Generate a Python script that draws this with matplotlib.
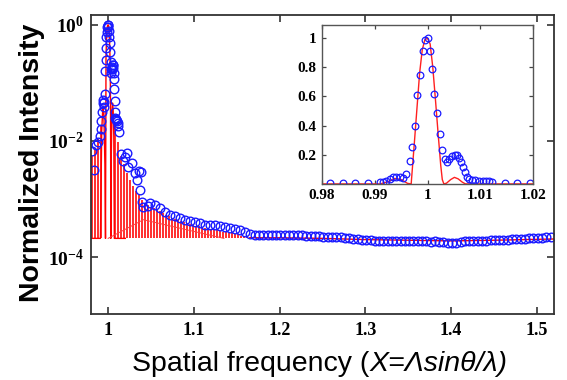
import numpy as np
import matplotlib
matplotlib.use('Agg')
import matplotlib.pyplot as plt

plt.rcParams['mathtext.fontset'] = 'custom'
plt.rcParams['mathtext.rm'] = 'Liberation Serif:bold'
plt.rcParams['mathtext.bf'] = 'Liberation Serif:bold'
plt.rcParams['mathtext.it'] = 'Liberation Serif:italic:bold'
plt.rcParams['mathtext.default'] = 'rm'

# ---------------- data ----------------
# theory sidelobe peaks (drawn as red stems down to noise floor)
stem_x = [0.9810, 0.9845, 0.9880, 0.9915,
          1.0085, 1.0120, 1.0155, 1.0190, 1.0225, 1.0260, 1.0295, 1.0330,
          1.0365, 1.0400, 1.0435, 1.0470, 1.0505, 1.0540, 1.0575, 1.0610,
          1.0645, 1.0680, 1.0715, 1.0750, 1.0785, 1.0820, 1.0855, 1.0890,
          1.0925, 1.0960, 1.0995, 1.1030, 1.1065, 1.1100, 1.1135, 1.1170,
          1.1205, 1.1240, 1.1275, 1.1310, 1.1345, 1.1380, 1.1415, 1.1450,
          1.1485, 1.1520, 1.1555, 1.1590, 1.1625, 1.1660]
stem_top = [5.6e-3, 7.6e-3, 1.1e-2, 1.8e-2,
            1.9e-2, 9.5e-3, 5.6e-3, 4.0e-3, 2.8e-3, 2.1e-3, 1.7e-3, 1.4e-3,
            1.15e-3, 9.8e-4, 8.7e-4, 7.9e-4, 7.4e-4, 7.1e-4, 6.6e-4, 6.2e-4,
            5.8e-4, 5.4e-4, 5.0e-4, 4.8e-4, 4.6e-4, 4.4e-4, 4.2e-4, 4.0e-4,
            3.8e-4, 3.7e-4, 3.55e-4, 3.45e-4, 3.4e-4, 3.25e-4, 3.15e-4, 3.1e-4,
            3.0e-4, 2.95e-4, 2.9e-4, 2.8e-4, 2.75e-4, 2.7e-4, 2.65e-4, 2.55e-4,
            2.5e-4, 2.45e-4, 2.35e-4, 2.3e-4, 2.25e-4, 2.2e-4]
noise_floor = 2.1e-4

# secondary "tent" envelope of theory minima
tent_x = [1.000, 1.041, 1.135]
tent_y = [2.1e-4, 4.4e-4, 2.1e-4]

# theory far tail
tail_th_x = [1.166, 1.20, 1.25, 1.30, 1.35, 1.40, 1.45, 1.52]
tail_th_y = [2.15e-4, 2.15e-4, 2.1e-4, 2.0e-4, 1.95e-4, 1.9e-4, 1.95e-4, 2.05e-4]

# theory near the main peak (linear)
th_x = [0.980, 0.991, 0.9925, 0.9938, 0.9950, 0.9962, 0.9969, 0.9975, 0.9980,
        0.9985, 0.9990, 0.9995, 1.0000, 1.0005, 1.0010, 1.0015, 1.0020, 1.0025,
        1.0028, 1.0031, 1.0036, 1.0044, 1.0051, 1.0058, 1.0066, 1.0072, 1.020]
th_y = [0.0, 0.0, 0.015, 0.038, 0.030, 0.004, 0.0, 0.28, 0.52,
        0.76, 0.92, 0.99, 1.0, 0.96, 0.80, 0.58, 0.35, 0.13,
        0.03, 0.0, 0.005, 0.03, 0.045, 0.035, 0.012, 0.0, 0.0]

# measured data
meas_x = [0.98156, 0.98394, 0.98625, 0.98863, 0.99094, 0.99156, 0.99219, 0.99281,
          0.99344, 0.99406, 0.99469, 0.99531, 0.99594, 0.99669, 0.99706, 0.99769,
          0.99806, 0.99856, 0.99906, 0.99944, 1.00000, 1.00038, 1.00094, 1.00125,
          1.00188, 1.00238, 1.00281, 1.00331, 1.00375, 1.00406, 1.00456, 1.00513,
          1.00563, 1.00594, 1.00631, 1.00669, 1.00706, 1.00750, 1.00794, 1.00844,
          1.00906, 1.00969, 1.01044, 1.01106, 1.01169, 1.01219, 1.01469, 1.01706,
          1.01950,
          1.0216, 1.0231, 1.0274, 1.0313, 1.0333, 1.0354, 1.0371, 1.0383, 1.0391,
          1.0406, 1.0464, 1.0488, 1.0546, 1.0604, 1.0662, 1.0721, 1.0779, 1.0837,
          1.0896, 1.0954, 1.1012, 1.1070, 1.1129, 1.1187, 1.1245, 1.1303, 1.1362,
          1.1420, 1.1478, 1.1537, 1.1595, 1.1653, 1.1711,
          1.176, 1.181, 1.186, 1.191, 1.196, 1.201, 1.206, 1.211, 1.216, 1.221,
          1.226, 1.231, 1.236, 1.241, 1.246, 1.251, 1.256, 1.261, 1.266, 1.271,
          1.276, 1.281, 1.286, 1.291, 1.296, 1.301, 1.306, 1.311, 1.316, 1.321,
          1.326, 1.331, 1.336, 1.341, 1.346, 1.351, 1.356, 1.361, 1.366, 1.371,
          1.376, 1.381, 1.386, 1.391, 1.396, 1.401, 1.406, 1.411, 1.416, 1.421,
          1.426, 1.431, 1.436, 1.441, 1.446, 1.451, 1.456, 1.461, 1.466, 1.471,
          1.476, 1.481, 1.486, 1.491, 1.496, 1.501, 1.506, 1.511, 1.516]
meas_y = [0.0068, 0.0031, 0.0085, 0.0095, 0.012, 0.016, 0.022, 0.032,
          0.045, 0.050, 0.047, 0.038, 0.065, 0.16, 0.25, 0.40,
          0.61, 0.75, 0.91, 0.99, 1.00, 0.91, 0.79, 0.62,
          0.49, 0.34, 0.23, 0.17, 0.15, 0.17, 0.19, 0.20,
          0.20, 0.18, 0.15, 0.115, 0.08, 0.048, 0.032, 0.025,
          0.024, 0.023, 0.022, 0.020, 0.018, 0.014, 0.006, 0.0045,
          0.0052,
          6.3e-3, 3.5e-3, 4.2e-3, 2.8e-3, 2.1e-3, 3.0e-3, 1.45e-3, 2.9e-3, 8.9e-4,
          7.2e-4, 7.6e-4, 8.5e-4, 7.9e-4, 6.9e-4, 6.0e-4, 5.4e-4, 5.0e-4, 4.7e-4,
          4.4e-4, 4.2e-4, 4.0e-4, 3.8e-4, 3.6e-4, 3.5e-4, 3.5e-4, 3.4e-4, 3.3e-4,
          3.2e-4, 3.0e-4, 2.9e-4, 2.7e-4, 2.5e-4, 2.4e-4,
          2.40e-4, 2.40e-4, 2.40e-4, 2.38e-4, 2.40e-4, 2.40e-4, 2.38e-4, 2.40e-4, 2.38e-4, 2.36e-4,
          2.36e-4, 2.34e-4, 2.34e-4, 2.30e-4, 2.28e-4, 2.26e-4, 2.26e-4, 2.24e-4, 2.22e-4, 2.20e-4,
          2.16e-4, 2.12e-4, 2.08e-4, 2.04e-4, 2.00e-4, 1.96e-4, 1.94e-4, 1.92e-4, 1.92e-4, 1.90e-4,
          1.90e-4, 1.90e-4, 1.88e-4, 1.90e-4, 1.88e-4, 1.88e-4, 1.86e-4, 1.88e-4, 1.86e-4, 1.86e-4,
          1.84e-4, 1.86e-4, 1.84e-4, 1.82e-4, 1.76e-4, 1.74e-4, 1.76e-4, 1.84e-4, 1.86e-4, 1.88e-4,
          1.88e-4, 1.90e-4, 1.90e-4, 1.92e-4, 1.94e-4, 1.96e-4, 1.98e-4, 2.00e-4, 2.00e-4, 2.02e-4,
          2.04e-4, 2.06e-4, 2.08e-4, 2.10e-4, 2.12e-4, 2.14e-4, 2.16e-4, 2.20e-4, 2.22e-4]

main_xticks = [1.0, 1.1, 1.2, 1.3, 1.4, 1.5]
main_xlabels = ['1', '1.1', '1.2', '1.3', '1.4', '1.5']
main_yticks = [1e0, 1e-2, 1e-4]
main_ylabels = [r'$10^{0}$', r'$10^{-2}$', r'$10^{-4}$']
ins_xticks = [0.98, 0.99, 1.0, 1.01, 1.02]
ins_xlabels = ['0.98', '0.99', '1', '1.01', '1.02']
ins_yticks = [0.2, 0.4, 0.6, 0.8, 1.0]
ins_ylabels = ['0.2', '0.4', '0.6', '0.8', '1']

# ---------------- figure ----------------
fig = plt.figure(figsize=(5.67, 3.8), dpi=100)
ax = fig.add_axes([0.1605, 0.1737, 0.8166, 0.787])
ax.set_yscale('log')
ax.set_xlim(0.98, 1.52)
ax.set_ylim(10 ** -4.98, 10 ** 0.17)

red = '#ff0000'
ax.vlines(stem_x, noise_floor, stem_top, colors=red, lw=1.15)
ax.plot(th_x, np.maximum(np.array(th_y), noise_floor), color=red, lw=1.0)
ax.plot(tent_x, tent_y, color='#ff4040', lw=0.7)
ax.plot(tail_th_x, tail_th_y, color=red, lw=1.0)
ax.plot(meas_x, meas_y, 'o', mfc='none', mec='#1a1aff', ms=6.2, mew=1.0)

ax.set_xticks(main_xticks)
ax.set_xticklabels(main_xlabels)
ax.set_yticks(main_yticks)
ax.set_yticklabels(main_ylabels)
ax.minorticks_off()
ax.tick_params(direction='in', top=True, right=True, length=5, width=1.2,
               color='#333333', pad=6)
ax.tick_params(axis='y', pad=5)
for lab in ax.get_xticklabels():
    lab.set_fontfamily('Liberation Serif')
    lab.set_fontweight('bold')
    lab.set_fontsize(13)
for lab in ax.get_yticklabels():
    lab.set_fontfamily('Liberation Serif')
    lab.set_fontweight('bold')
    lab.set_fontsize(14)
for sp in ax.spines.values():
    sp.set_linewidth(1.3)
    sp.set_color('#333333')

# axis labels
fig.text(0.056, 0.571, 'Normalized Intensity', rotation=90, ha='center', va='center',
         fontsize=20.5, fontweight='bold', family='Liberation Sans')

renderer = fig.canvas.get_renderer()
t1 = fig.text(0, 0.0434, 'Spatial frequency (', ha='left', va='center',
              fontsize=20.5, family='Liberation Sans')
t2 = fig.text(0, 0.0434, 'X=\u039bsin\u03b8/\u03bb)', ha='left', va='center',
              fontsize=20.5, family='Liberation Sans', style='italic')
w1 = t1.get_window_extent(renderer).width
w2 = t2.get_window_extent(renderer).width
W = fig.get_figwidth() * fig.dpi
cx = 320.0
x0 = cx - (w1 + w2) / 2
t1.set_x(x0 / W)
t2.set_x((x0 + w1) / W)

# inset
axi = fig.add_axes([0.568, 0.516, 0.372, 0.418])
axi.set_facecolor('white')
axi.set_xlim(0.98, 1.02)
axi.set_ylim(0, 1.09)
axi.plot(th_x, th_y, color='#ff2020', lw=1.0)
axi.plot(meas_x, meas_y, 'o', mfc='none', mec='#1a1aff', ms=4.8, mew=0.9)
axi.set_xticks(ins_xticks)
axi.set_xticklabels(ins_xlabels)
axi.set_yticks(ins_yticks)
axi.set_yticklabels(ins_ylabels)
axi.tick_params(direction='in', top=True, right=True, length=3, width=0.9,
                color='#444444', pad=4)
for lab in axi.get_xticklabels() + axi.get_yticklabels():
    lab.set_fontfamily('Liberation Serif')
    lab.set_fontweight('bold')
    lab.set_fontsize(11)
for sp in axi.spines.values():
    sp.set_linewidth(1.0)
    sp.set_color('#555555')

fig.savefig('out.png', dpi=100)
